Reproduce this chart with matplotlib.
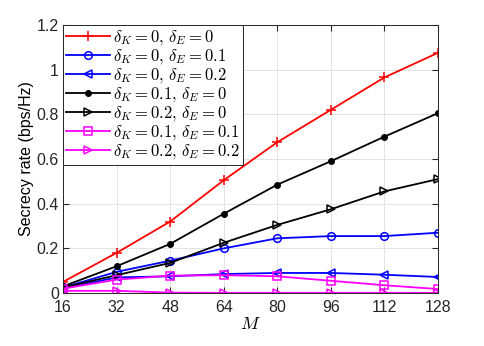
import matplotlib

matplotlib.use("Agg")
import matplotlib.pyplot as plt

M = [16, 32, 48, 64, 80, 96, 112, 128]

r_00 = [0.05, 0.18, 0.32, 0.505, 0.675, 0.82, 0.965, 1.075]
r_0_01 = [0.025, 0.095, 0.145, 0.20, 0.245, 0.255, 0.255, 0.27]
r_0_02 = [0.02, 0.07, 0.075, 0.085, 0.09, 0.09, 0.082, 0.072]
r_01_0 = [0.03, 0.12, 0.22, 0.355, 0.485, 0.59, 0.70, 0.805]
r_02_0 = [0.025, 0.08, 0.135, 0.225, 0.305, 0.375, 0.455, 0.51]
r_01_01 = [0.02, 0.06, 0.078, 0.08, 0.075, 0.055, 0.035, 0.018]
r_02_02 = [0.01, 0.01, 0.002, 0.001, 0.001, 0.001, 0.001, 0.001]

labels = [
    r"$\delta_K=0,\,\delta_E=0$",
    r"$\delta_K=0,\,\delta_E=0.1$",
    r"$\delta_K=0,\,\delta_E=0.2$",
    r"$\delta_K=0.1,\,\delta_E=0$",
    r"$\delta_K=0.2,\,\delta_E=0$",
    r"$\delta_K=0.1,\,\delta_E=0.1$",
    r"$\delta_K=0.2,\,\delta_E=0.2$",
]

plt.rcParams.update({
    "font.family": "Liberation Sans",
    "mathtext.fontset": "cm",
    "font.size": 11.5,
})

fig = plt.figure(figsize=(4.85, 3.46), dpi=100)
ax = fig.add_axes([0.130, 0.153, 0.773, 0.775])

kw = dict(lw=1.3, ms=5.5, mfc="none", mew=1.1)
ax.plot(M, r_00, color="red", marker="+", ms=7, lw=1.3, mew=1.1, label=labels[0])
ax.plot(M, r_0_01, color="blue", marker="o", label=labels[1], **kw)
ax.plot(M, r_0_02, color="blue", marker="<", label=labels[2], **kw)
ax.plot(M, r_01_0, color="black", marker="o", ms=4, lw=1.3, label=labels[3])
ax.plot(M, r_02_0, color="black", marker=">", label=labels[4], **kw)
ax.plot(M, r_01_01, color="magenta", marker="s", label=labels[5], **kw)
ax.plot(M, r_02_02, color="magenta", marker=">", label=labels[6], **kw)

ax.set_xlim(16, 128)
ax.set_ylim(0, 1.2)
ax.set_xticks(M)
ax.set_yticks([0, 0.2, 0.4, 0.6, 0.8, 1.0, 1.2])
ax.set_yticklabels(["0", "0.2", "0.4", "0.6", "0.8", "1", "1.2"])
ax.grid(True, color="#e3e3e3", lw=0.7)
ax.set_axisbelow(True)
ax.tick_params(direction="in", top=True, right=True, length=4,
               labelsize=11.5, colors="#262626")
ax.tick_params(axis="x", pad=5)
ax.tick_params(axis="y", pad=3)
for s in ax.spines.values():
    s.set_color("#262626")
    s.set_linewidth(0.7)
ax.set_xlabel("$M$", fontsize=13, labelpad=1)
ax.set_ylabel("Secrecy rate (bps/Hz)", fontsize=11.5, labelpad=2)

leg = ax.legend(loc="upper left", fontsize=12, handlelength=2.6, handletextpad=0.2,
                labelspacing=0.0, borderpad=0.2, borderaxespad=0.0, fancybox=False,
                edgecolor="#262626", framealpha=1)
leg.get_frame().set_linewidth(0.7)

fig.savefig("out.png", dpi=100)
